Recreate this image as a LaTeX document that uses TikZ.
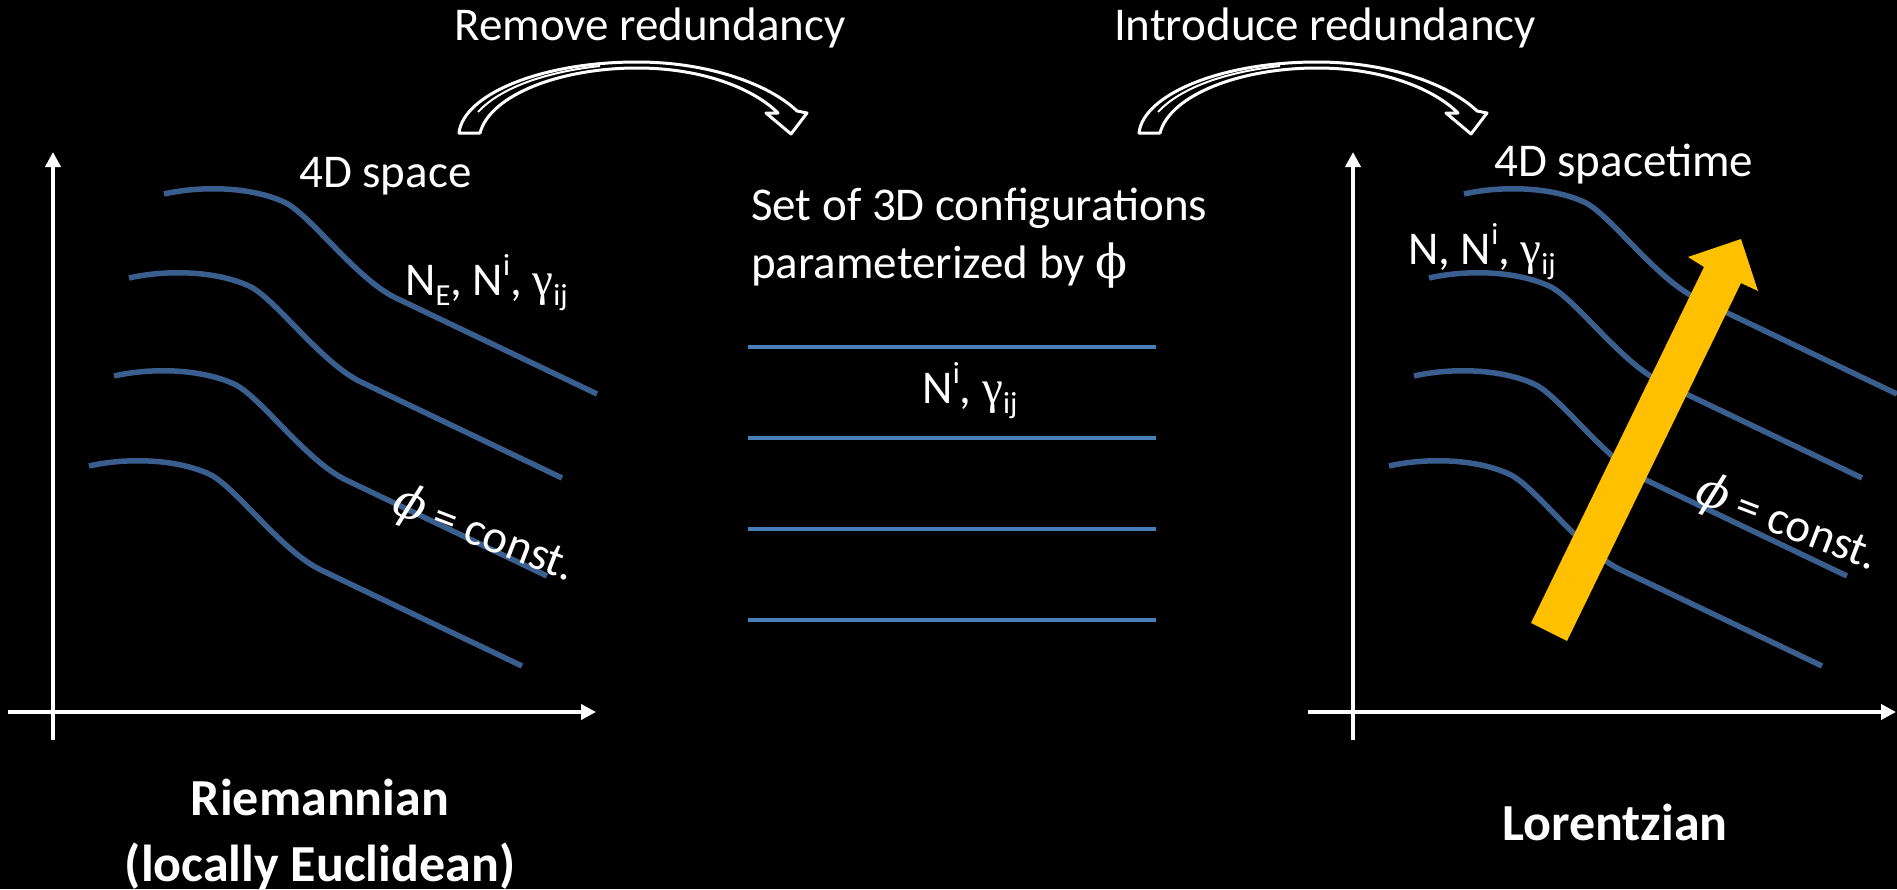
\documentclass[tikz,border=0pt]{standalone}
\usepackage{fontspec}
\usepackage{graphicx}
\setmainfont{Carlito}
\newfontfamily\grk{Liberation Serif}
\newfontfamily\phifont{DejaVu Serif}
\usetikzlibrary{arrows.meta}
\definecolor{curveblue}{HTML}{3A5F8E}
\definecolor{lineblue}{HTML}{4A7EBB}
\definecolor{goldarrow}{HTML}{FFC000}
\newcommand{\lsub}[1]{\raisebox{-0.22em}{\scalebox{0.65}{#1}}}
\newcommand{\lsup}[1]{\raisebox{0.42em}{\scalebox{0.65}{#1}}}
\newcommand{\gij}{{\grk γ}\lsub{ij}}
\newcommand{\wavecurve}[2]{%
  \begin{scope}[shift={(#1,#2)}]
    \draw[wavestyle] (0,0) .. controls (35,-8) and (85,-8) .. (120,8)
      .. controls (145,19) and (192,85) .. (232,104) -- (433,200);
  \end{scope}}
\newcommand{\hollowarrow}[1]{%
  \begin{scope}[shift={(#1,0)}]
    \draw[hollow] (459,133) .. controls (463,95) and (540,62) .. (637,62)
      .. controls (710,62) and (770,85) .. (797,111)
      -- (807,113) -- (791,134) -- (766,113) -- (778,113)
      .. controls (755,90) and (705,68) .. (637,68)
      .. controls (560,68) and (490,95) .. (480,133) -- cycle;
    \draw[white,line width=2pt] (478,112) .. controls (500,88) and (545,72) .. (600,66);
  \end{scope}}
\begin{document}
\begin{tikzpicture}[x=1pt,y=-1pt,
  txt/.style={text=white,font=\fontsize{47}{57}\selectfont,inner sep=0pt},
  boldtxt/.style={text=white,font=\fontsize{52}{63}\selectfont\bfseries,inner sep=0pt},
  axisline/.style={white,line width=4pt,-{Triangle[length=15pt,width=15pt]}},
  wavestyle/.style={curveblue,line width=5.5pt},
  flatline/.style={lineblue,line width=4.5pt},
  hollow/.style={draw=white,fill=black,line width=3pt,line join=round}]
\useasboundingbox[fill=black] (0,0) rectangle (1897,889);

% titles
\node[txt,anchor=base] (remove) at (650,40) {Remove redundancy};
\node[txt,anchor=base] (introduce) at (1325,40) {Introduce redundancy};
\hollowarrow{0}
\hollowarrow{680}

% left panel
\coordinate (lyb) at (53,740);
\coordinate (lyt) at (53,152);
\coordinate (lxl) at (8,712);
\coordinate (lxr) at (596,712);
\draw[axisline] (lyb) -- (lyt);
\draw[axisline] (lxl) -- (lxr);
\wavecurve{164}{194}
\wavecurve{129}{278}
\wavecurve{114}{376}
\wavecurve{89}{466}
\node[txt,anchor=base west] (space) at (299,187) {4D space};
\node[txt,anchor=base west] (labL) at (405,295) {N\lsub{E}, N\lsup{i}, \gij};
\node[txt,rotate=-21] (constL) at (484,535) {{\phifont\itshape ϕ} = const.};
\node[boldtxt,anchor=base] (riem) at (320,815) {Riemannian};
\node[boldtxt,anchor=base] (riem2) at (320,881) {(locally Euclidean)};

% middle
\node[txt,anchor=base west] (set1) at (751,220) {Set of 3D configurations};
\node[txt,anchor=base west] (set2) at (751,278) {parameterized by {\phifont ϕ}};
\foreach \yy [count=\k] in {347,438,529,620} {
  \coordinate (ml\k) at (748,\yy);
  \coordinate (mr\k) at (1156,\yy);
  \draw[flatline] (ml\k) -- (mr\k);
}
\node[txt,anchor=base] (midlab) at (970,403) {N\lsup{i}, \gij};

% right panel
\coordinate (ryb) at (1353,740);
\coordinate (ryt) at (1353,152);
\coordinate (rxl) at (1308,712);
\coordinate (rxr) at (1896,712);
\draw[axisline] (ryb) -- (ryt);
\draw[axisline] (rxl) -- (rxr);
\wavecurve{1464}{194}
\wavecurve{1429}{278}
\wavecurve{1414}{376}
\wavecurve{1389}{466}
\node[txt,anchor=base west] (spacetime) at (1494,176) {4D spacetime};
\node[txt,anchor=base west] (labR) at (1408,264) {N, N\lsup{i}, \gij};
\node[txt,rotate=-21] (constR) at (1787,524) {{\phifont\itshape ϕ} = const.};
\fill[goldarrow] (1531,623) -- (1567,641) -- (1741,283) -- (1758,291)
  -- (1741,239) -- (1688,257) -- (1704,267) -- cycle;
\node[boldtxt,anchor=base] (lor) at (1615,840) {Lorentzian};
\end{tikzpicture}
\end{document}
